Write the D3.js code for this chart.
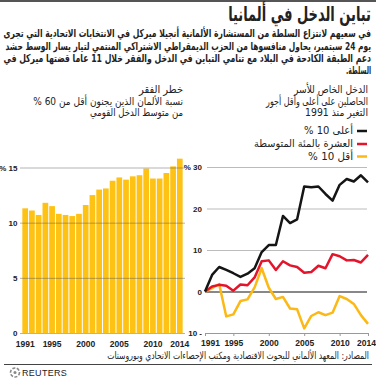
<!DOCTYPE html>
<html>
<head>
<meta charset="utf-8">
<script src="https://cdnjs.cloudflare.com/ajax/libs/d3/7.8.5/d3.min.js"></script>
<style>
  body { margin: 0; background: #fff; }
  svg { display: block; }
  text { font-family: "DejaVu Sans", "Liberation Sans", sans-serif; fill: #222; }
  .tick text { font-family: "Liberation Sans", Arial, sans-serif; }
</style>
</head>
<body>
<div id="chart"></div>
<script>
// data
const years = [1991, 1992, 1993, 1994, 1995, 1996, 1997, 1998, 1999, 2000, 2001, 2002,
               2003, 2004, 2005, 2006, 2007, 2008, 2009, 2010, 2011, 2012, 2013, 2014];
const povertyRate = [11.3, 11.1, 10.7, 11.8, 11.5, 10.8, 10.7, 10.6, 10.8, 11.6, 12.5, 13.0,
                     13.1, 13.8, 14.1, 13.9, 14.2, 14.3, 14.9, 14.0, 14.0, 14.5, 15.1, 15.8];
const top10 = [0, 4.0, 5.9, 5.2, 4.4, 3.5, 4.3, 5.6, 9.5, 11.2, 11.2, 18.2,
               16.5, 17.4, 25.3, 25.1, 25.3, 23.5, 21.9, 25.7, 27.1, 26.5, 28.0, 26.3];
const middle10 = [0, 1.2, 1.6, 1.4, 0.2, 1.7, 1.5, 3.4, 7.3, 7.5, 5.2, 7.3,
                  6.3, 5.9, 4.5, 4.7, 6.2, 5.6, 9.0, 8.5, 7.5, 7.6, 7.0, 8.8];
const bottom10 = [0, 0.8, 1.8, -6.0, -5.5, -2.3, -1.9, 1.0, 5.6, 0.9, -1.8, -1.3,
                  -4.1, -4.3, -8.9, -5.9, -5.0, -5.7, -5.1, -1.1, -1.8, -3.0, -5.7, -7.8];
const yearTicks = [1991, 1995, 2000, 2005, 2010, 2014];
const barTicks = [0, 5, 10, 15];
const lineTicks = [-10, 0, 10, 20, 30];

const title = "تباين الدخل في ألمانيا";
const intro = [
  "في سعيهم لانتزاع السلطة من المستشارة الألمانية أنجيلا ميركل في الانتخابات الاتحادية التي تجرى",
  "يوم 24 سبتمبر، يحاول منافسوها من الحزب الديمقراطي الاشتراكي المنتمي لتيار يسار الوسط حشد",
  "دعم الطبقة الكادحة في البلاد مع تنامي التباين في الدخل والفقر خلال 11 عاما قضتها ميركل في",
  "السلطة."
];
const leftHead = ["خطر الفقر", "نسبة الألمان الذين يجنون أقل من 60 %", "من متوسط الدخل القومي"];
const rightHead = ["الدخل الخاص للأسر", "الحاصلين على أعلى وأقل أجور", "التغير منذ 1991"];
const seriesNames = ["أعلى 10 %", "العشرة بالمئة المتوسطة", "أقل 10 %"];
const source = "المصادر: المعهد الألماني للبحوث الاقتصادية ومكتب الإحصاءات الاتحادي ويوروستات";

const W = 376, H = 378;
const colors = {bar: "#fec215", top: "#151515", mid: "#e4142b", low: "#fcb814"};

const svg = d3.select("#chart").append("svg").attr("width", W).attr("height", H);

svg.append("rect").attr("x", 0).attr("y", 0).attr("width", W).attr("height", 2).attr("fill", "#555");

// right-to-left text, right edge at x, squeezed to the given width
function rtl(x, y, str, size, weight, width) {
  const g = svg.append("g").attr("transform", `translate(${x},${y})`);
  const t = g.append("text")
    .attr("direction", "rtl")
    .attr("text-anchor", "start")
    .style("font-size", size + "px")
    .style("font-weight", weight)
    .text(str);
  if (width) {
    const w = t.node().getComputedTextLength();
    g.attr("transform", `translate(${x},${y}) scale(${width / w},1)`);
  }
  return t;
}

rtl(371, 21, title, 20, "bold", 143);
rtl(371, 37, intro[0], 11, "bold", 368);
rtl(371, 49.5, intro[1], 11, "bold", 366);
rtl(371, 62, intro[2], 11, "bold", 368);
rtl(371, 74, intro[3], 11, "bold", 25);

rtl(183, 93, leftHead[0], 11, "normal", 44);
rtl(183, 104.5, leftHead[1], 10.5, "normal", 150);
rtl(183, 116, leftHead[2], 10.5, "normal", 93);
rtl(368, 93, rightHead[0], 11, "normal", 74);
rtl(368, 104.5, rightHead[1], 10.5, "normal", 102);
rtl(368, 116, rightHead[2], 10.5, "normal", 63);

// ---- left: bar chart
const xb = d3.scaleBand().domain(years).range([22, 183]).paddingInner(0.15).paddingOuter(0.05);
const yb = d3.scaleLinear().domain([0, 15]).range([333, 167.5]);

svg.append("g").selectAll("rect")
  .data(povertyRate)
  .enter()
  .append("rect")
    .attr("x", (d, i) => xb(years[i]))
    .attr("y", d => yb(d))
    .attr("width", xb.bandwidth())
    .attr("height", d => yb(0) - yb(d))
    .attr("fill", colors.bar);

const gyb = svg.append("g")
  .attr("transform", "translate(20,0)")
  .call(d3.axisLeft(yb).tickValues(barTicks).tickSize(-165).tickPadding(2.5)
    .tickFormat(d => d === 15 ? "% 15" : d));
gyb.select(".domain").remove();
gyb.selectAll(".tick line").attr("stroke", "#555").attr("stroke-opacity", 0.45);
gyb.selectAll(".tick text").style("font-size", "8px").style("font-weight", "bold").attr("fill", "#333");

const gxb = svg.append("g")
  .attr("transform", "translate(0,337)")
  .call(d3.axisBottom(xb).tickValues(yearTicks).tickSize(0).tickPadding(4));
gxb.select(".domain").remove();
gxb.selectAll(".tick text").style("font-size", "8.5px").style("font-weight", "bold").attr("fill", "#333");

// ---- right: line chart
const xl = d3.scalePoint().domain(years).range([205, 368]);
const yl = d3.scaleLinear().domain([-10, 30]).range([333, 167]);

const gyl = svg.append("g")
  .attr("transform", "translate(207,0)")
  .call(d3.axisLeft(yl).tickValues(lineTicks).tickSize(-160).tickPadding(5)
    .tickFormat(d => d === 30 ? "% 30" : d < 0 ? (-d) + " -" : d));
gyl.select(".domain").remove();
gyl.selectAll(".tick line").attr("stroke", d => d === 0 ? "#888" : "#bbb")
  .attr("stroke-width", d => d === 0 ? 2 : 1)
  .attr("x1", d => d === 0 ? -2 : 0)
  .attr("display", d => d === -10 ? "none" : null);
gyl.selectAll(".tick text").style("font-size", "8px").style("font-weight", "bold").attr("fill", "#333");

const gxl = svg.append("g")
  .attr("transform", "translate(0,333)")
  .call(d3.axisBottom(xl).tickValues(yearTicks).tickSize(3).tickSizeOuter(0).tickPadding(4));
gxl.select(".domain").attr("stroke", "#999");
gxl.selectAll(".tick line").attr("stroke", "#999");
gxl.selectAll(".tick text").style("font-size", "8.5px").style("font-weight", "bold").attr("fill", "#333")
  .attr("dx", d => d === 1991 ? 5 : d === 2014 ? -2 : 0);

const line = d3.line().x((d, i) => xl(years[i])).y(d => yl(d)).curve(d3.curveLinear);
[[bottom10, colors.low], [middle10, colors.mid], [top10, colors.top]].forEach(([s, c]) => {
  svg.append("path").datum(s)
    .attr("d", line)
    .attr("fill", "none")
    .attr("stroke", c)
    .attr("stroke-width", 2.5)
    .attr("stroke-linejoin", "round");
});

// legend
const legendColors = [colors.top, colors.mid, colors.low];
const legendY = [130, 143, 155.5];
const legendW = [49, 99, 45];
seriesNames.forEach((n, i) => {
  svg.append("line")
    .attr("x1", 357).attr("x2", 367)
    .attr("y1", legendY[i] + 1).attr("y2", legendY[i] + 1)
    .attr("stroke", legendColors[i]).attr("stroke-width", 2.5);
  rtl(353, legendY[i] + 4, n, 10.5, "normal", legendW[i]);
});

// footer
rtl(369, 359, source, 10, "normal", 262);
svg.append("line").attr("x1", 4).attr("x2", 372).attr("y1", 364.5).attr("y2", 364.5)
  .attr("stroke", "#444").attr("stroke-width", 1);

const logo = svg.append("g").attr("transform", "translate(15,372.5)");
logo.append("circle").attr("r", 4.5).attr("fill", "none").attr("stroke", "#888").attr("stroke-width", 1.6)
  .attr("stroke-dasharray", "3 1.5");
logo.append("circle").attr("r", 1.5).attr("fill", "#888");
svg.append("text").attr("x", 22).attr("y", 376)
  .style("font-size", "9px").style("font-family", "Liberation Sans, Arial, sans-serif")
  .style("letter-spacing", "0.3px").attr("fill", "#666").text("REUTERS");
</script>
</body>
</html>
